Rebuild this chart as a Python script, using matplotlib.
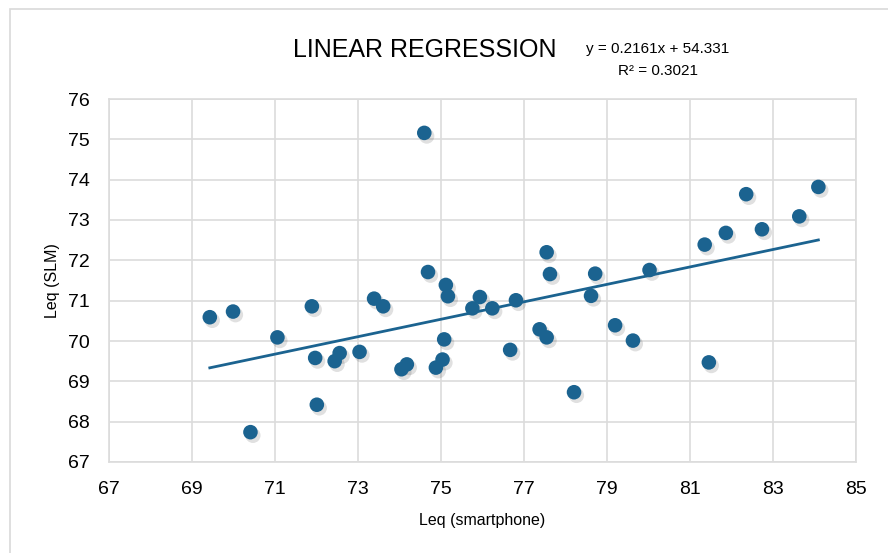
import matplotlib
matplotlib.use("Agg")
import matplotlib.pyplot as plt
import matplotlib.patches as mpatches
import numpy as np

plt.rcParams['font.family'] = ['Liberation Sans', 'DejaVu Sans']

leq_smartphone = [74.60, 69.43, 69.99, 71.89, 71.06, 71.97, 72.01, 70.41, 72.44, 72.56,
                  73.04, 73.39, 73.61, 74.05, 74.18, 74.69, 75.12, 75.17, 75.08, 75.04,
                  74.88, 75.94, 75.76, 76.24, 76.81, 76.67, 77.55, 77.63, 77.38, 77.55,
                  78.21, 78.72, 78.62, 79.20, 79.63, 80.03, 81.36, 81.46, 81.87, 82.36,
                  82.74, 83.64, 84.10]
leq_slm = [75.16, 70.59, 70.73, 70.86, 70.09, 69.58, 68.42, 67.74, 69.50, 69.70,
           69.73, 71.05, 70.86, 69.30, 69.42, 71.71, 71.39, 71.11, 70.04, 69.54,
           69.34, 71.09, 70.81, 70.81, 71.01, 69.78, 72.20, 71.66, 70.29, 70.09,
           68.73, 71.67, 71.12, 70.39, 70.01, 71.76, 72.39, 69.47, 72.68, 73.64,
           72.77, 73.09, 73.82]
slope = 0.2161
intercept = 54.331
r_squared = 0.3021
x_ticks = [67, 69, 71, 73, 75, 77, 79, 81, 83, 85]
y_ticks = [67, 68, 69, 70, 71, 72, 73, 74, 75, 76]

color = '#1b6390'

fig = plt.figure(figsize=(8.88, 5.53), dpi=100)
ax = fig.add_axes([109/888, 1-462/553, (855.7-109)/888, (462-99)/553])

x = np.array(leq_smartphone)
y = np.array(leq_slm)

# soft shadow
ax.scatter(x + 0.06, y - 0.08, s=120, color='#000000', alpha=0.12, edgecolors='none', zorder=2)
ax.scatter(x, y, s=110, color=color, edgecolors='none', zorder=3)

xs = np.array([x.min(), x.max()])
ax.plot(xs, slope * xs + intercept, color=color, lw=2.0, zorder=4)

ax.set_xlim(67, 85)
ax.set_ylim(67, 76)
ax.set_xticks(x_ticks)
ax.set_yticks(y_ticks)
ax.grid(True, color='#dcdcdc', lw=1.2)
ax.set_axisbelow(True)
for s in ax.spines.values():
    s.set_color('#dcdcdc')
    s.set_linewidth(1.2)
ax.tick_params(length=0, labelsize=14)
ax.tick_params(axis='y', pad=14)
ax.tick_params(axis='x', pad=14)

xl = ax.set_xlabel('Leq (smartphone)', fontsize=11.5)
yl = ax.set_ylabel('Leq (SLM)', fontsize=11.5)
xl.set_va('center')
yl.set_va('center')
ax.xaxis.set_label_coords((482-109)/746.7, (462-521)/363)
ax.yaxis.set_label_coords((52-109)/746.7, (462-281)/363)

fig.text(425/888, 1-50/553, 'LINEAR REGRESSION', fontsize=18, ha='center', va='center')
fig.text(658/888, 1-49/553, f'y = {slope}x + {intercept}', fontsize=11, ha='center', va='center')
fig.text(658/888, 1-71/553, f'R² = {r_squared}', fontsize=11, ha='center', va='center')

frame = mpatches.Rectangle((10/888, -0.1), 1.2, 1 - 9/553 + 0.1, transform=fig.transFigure,
                           fill=False, edgecolor='#d9d9d9', lw=1.2)
fig.patches.append(frame)

fig.savefig('out.png', dpi=100)
